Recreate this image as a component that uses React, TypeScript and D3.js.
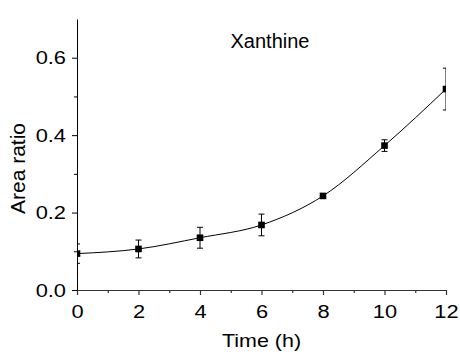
import React, { useRef, useEffect } from 'react'
import * as d3 from 'd3'

const times = [0, 2, 4, 6, 8, 10, 12]
const ratios = [0.094, 0.106, 0.135, 0.168, 0.243, 0.373, 0.519]
const errors = [0.025, 0.023, 0.027, 0.028, 0.003, 0.015, 0.054]
const xTicks = [0, 2, 4, 6, 8, 10, 12]
const xMinor = [1, 3, 5, 7, 9, 11]
const yTicks = [0, 0.2, 0.4, 0.6]
const yMinor = [0.1, 0.3, 0.5]
const title = 'Xanthine'

export default function App() {
  const svgRef = useRef<SVGSVGElement>(null)

  useEffect(() => {
    const width = 460
    const height = 354
    const margin = { top: 19, right: 14, bottom: 64, left: 77 }

    const svg = d3.select(svgRef.current)
    svg.selectAll('*').remove()
    svg.attr('viewBox', `0 0 ${width} ${height}`)

    const font = 'Arial, "Liberation Sans", sans-serif'
    const stretch = 1.15

    const x = d3.scaleLinear().domain([0, 12]).range([margin.left, width - margin.right])
    const y = d3.scaleLinear().domain([0, 0.7]).range([height - margin.bottom, margin.top])

    // clip marks to the plot area, like the original
    svg.append('clipPath').attr('id', 'plot-clip')
      .append('rect')
      .attr('x', margin.left)
      .attr('y', 0)
      .attr('width', width - margin.right - margin.left)
      .attr('height', height)

    const data = times.map((t, i) => ({ t, v: ratios[i], e: errors[i] }))

    const plot = svg.append('g').attr('clip-path', 'url(#plot-clip)')

    const line = d3.line<{ t: number; v: number }>()
      .x(d => x(d.t))
      .y(d => y(d.v))
      .curve(d3.curveMonotoneX)

    plot.append('path')
      .datum(data)
      .attr('d', line)
      .attr('fill', 'none')
      .attr('stroke', '#000')
      .attr('stroke-width', 1)

    // Error bars
    const cap = 3
    data.forEach(d => {
      const cx = x(d.t)
      const y1 = y(d.v + d.e)
      const y2 = y(d.v - d.e)
      const g = plot.append('g').attr('stroke', '#000').attr('stroke-width', 1)
      g.append('line').attr('x1', cx).attr('x2', cx).attr('y1', y1).attr('y2', y2)
      g.append('line').attr('x1', cx - cap).attr('x2', cx + cap).attr('y1', y1).attr('y2', y1)
      g.append('line').attr('x1', cx - cap).attr('x2', cx + cap).attr('y1', y2).attr('y2', y2)
    })

    // Markers
    const s = 6.6
    plot.selectAll('rect.pt')
      .data(data)
      .enter()
      .append('rect')
      .attr('class', 'pt')
      .attr('x', d => x(d.t) - s / 2)
      .attr('y', d => y(d.v) - s / 2)
      .attr('width', s)
      .attr('height', s)
      .attr('fill', '#000')

    // Axes
    const xAxis = svg.append('g')
      .attr('transform', `translate(0,${height - margin.bottom})`)
      .call(d3.axisBottom(x).tickValues(xTicks).tickFormat(d3.format('d')).tickSize(5).tickSizeOuter(0))
    const xMin = svg.append('g')
      .attr('transform', `translate(0,${height - margin.bottom})`)
      .call(d3.axisBottom(x).tickValues(xMinor).tickFormat(() => '').tickSize(3).tickSizeOuter(0))
    xMin.select('.domain').remove()

    const yAxis = svg.append('g')
      .attr('transform', `translate(${margin.left},0)`)
      .call(d3.axisLeft(y).tickValues(yTicks).tickFormat(d3.format('.1f')).tickSize(5).tickSizeOuter(0))
    svg.append('g')
      .attr('transform', `translate(${margin.left},0)`)
      .call(d3.axisLeft(y).tickValues(yMinor).tickFormat(() => '').tickSize(3).tickSizeOuter(0))
      .select('.domain').remove()

    svg.selectAll('.tick text')
      .attr('font-family', font)
      .attr('font-size', 19)
      .attr('fill', '#000')
      .attr('transform', `scale(${stretch},1)`)
    xAxis.selectAll('.tick text').attr('dy', '1.05em')
    yAxis.selectAll('.tick text').attr('x', -11 / stretch)
    svg.selectAll('.domain, .tick line').attr('stroke', '#000')
    xAxis.selectAll('.domain, .tick line').attr('stroke', '#333').attr('stroke-width', 1.2)
    xMin.selectAll('.tick line').attr('stroke', '#333').attr('stroke-width', 1.2)

    // Labels
    svg.append('text')
      .attr('transform', `translate(${(margin.left + width - margin.right) / 2},347) scale(1.13,1)`)
      .attr('text-anchor', 'middle')
      .attr('font-family', font)
      .attr('font-size', 19)
      .text('Time (h)')

    svg.append('text')
      .attr('transform', `translate(25,168.5) rotate(-90)`)
      .attr('text-anchor', 'middle')
      .attr('font-family', font)
      .attr('font-size', 21)
      .text('Area ratio')

    svg.append('text')
      .attr('x', 270)
      .attr('y', 48)
      .attr('text-anchor', 'middle')
      .attr('font-family', font)
      .attr('font-size', 20)
      .text(title)
  }, [])

  return (
    <svg
      ref={svgRef}
      width={460}
      height={354}
      style={{ position: 'absolute', left: 0, top: 0, background: '#fff' }}
    />
  )
}
